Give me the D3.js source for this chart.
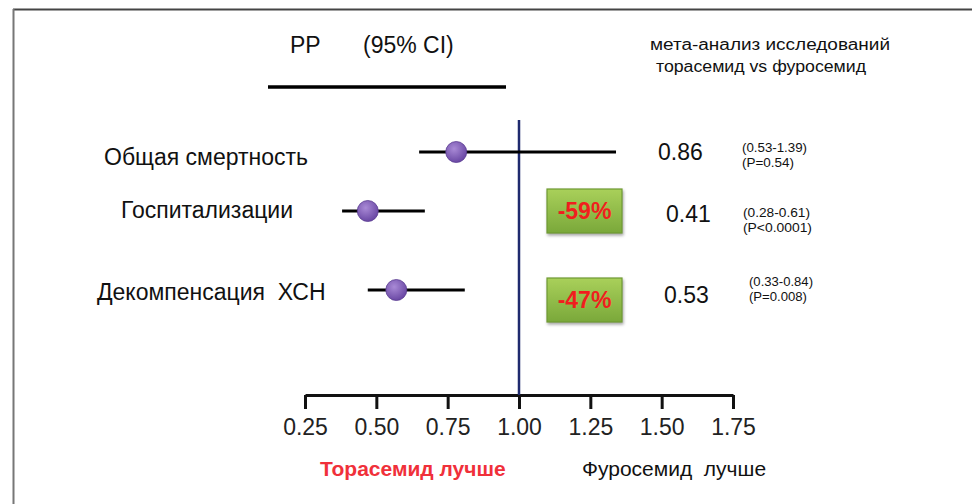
<!DOCTYPE html>
<html>
<head>
<meta charset="utf-8">
<script src="https://cdn.jsdelivr.net/npm/d3@7"></script>
<style>
  body { margin: 0; background: #fff; }
  svg { display: block; font-family: "Liberation Sans", Arial, sans-serif; }
  text { white-space: pre; }
</style>
</head>
<body>
<div id="drawing"></div>
<script>
// data
const outcomes = ["Общая смертность", "Госпитализации", "Декомпенсация  ХСН"];
const rrLabels = ["0.86", "0.41", "0.53"];
const ciLabels = ["(0.53-1.39)", "(0.28-0.61)", "(0.33-0.84)"];
const pLabels = ["(P=0.54)", "(P<0.0001)", "(P=0.008)"];
// where the marks sit on the drawn axis
const pointValues = [0.78, 0.47, 0.57];
const ciLow = [0.65, 0.38, 0.47];
const ciHigh = [1.34, 0.67, 0.81];
const reductions = [null, "-59%", "-47%"];
const tickValues = [0.25, 0.5, 0.75, 1.0, 1.25, 1.5, 1.75];

const width = 972;
const height = 504;

const svg = d3.select("#drawing").append("svg")
  .attr("width", width)
  .attr("height", height);

const defs = svg.append("defs");
const dotGrad = defs.append("radialGradient").attr("id", "dot")
  .attr("cx", "40%").attr("cy", "35%").attr("r", "65%");
dotGrad.append("stop").attr("offset", "0%").attr("stop-color", "#a98ad6");
dotGrad.append("stop").attr("offset", "100%").attr("stop-color", "#6a48a4");
const boxGrad = defs.append("linearGradient").attr("id", "box")
  .attr("x1", 0).attr("y1", 0).attr("x2", 0).attr("y2", 1);
boxGrad.append("stop").attr("offset", "0%").attr("stop-color", "#a9d05a");
boxGrad.append("stop").attr("offset", "100%").attr("stop-color", "#7aa83a");

// frame
svg.append("line").attr("x1", 13).attr("x2", width).attr("y1", 9.5).attr("y2", 9.5)
  .attr("stroke", "#444").attr("stroke-width", 2);
svg.append("line").attr("x1", 13.5).attr("x2", 13.5).attr("y1", 9).attr("y2", height)
  .attr("stroke", "#777").attr("stroke-width", 2);

// scales
const xScale = d3.scaleLinear().domain([0.25, 1.75]).range([305, 733]);
const yScale = d3.scaleOrdinal().domain(outcomes).range([152, 211, 290]);
const axisY = 395;

// header
svg.append("text").attr("x", 290).attr("y", 53).attr("font-size", 23).attr("fill", "#111").text("PP");
svg.append("text").attr("x", 363).attr("y", 53).attr("font-size", 23).attr("fill", "#111").text("(95% CI)");
svg.append("line").attr("x1", 268).attr("x2", 506).attr("y1", 87).attr("y2", 87)
  .attr("stroke", "#000").attr("stroke-width", 3.5);
svg.append("text").attr("x", 650).attr("y", 50)
  .attr("font-size", 16).attr("fill", "#111")
  .attr("textLength", 240).attr("lengthAdjust", "spacingAndGlyphs")
  .text("мета-анализ исследований");
svg.append("text").attr("x", 656).attr("y", 72)
  .attr("font-size", 16).attr("fill", "#111")
  .attr("textLength", 210).attr("lengthAdjust", "spacingAndGlyphs")
  .text("торасемид vs фуросемид");

// axis
const axis = svg.append("g").attr("transform", `translate(0, ${axisY})`)
  .call(d3.axisBottom(xScale).tickValues(tickValues).tickFormat(d3.format(".2f"))
    .tickSizeInner(14).tickSizeOuter(0).tickPadding(10));
axis.select(".domain").attr("stroke", "#111").attr("stroke-width", 3);
axis.selectAll(".tick line").attr("stroke", "#111").attr("stroke-width", 3);
axis.selectAll(".tick text").attr("font-size", 23).attr("fill", "#222")
  .attr("font-family", "Liberation Sans, Arial, sans-serif");

// line of no effect
svg.append("line")
  .attr("x1", xScale(1)).attr("x2", xScale(1))
  .attr("y1", 120).attr("y2", axisY)
  .attr("stroke", "#1f2a6e").attr("stroke-width", 2.5);

// rows
const rows = svg.selectAll("g.row").data(outcomes).join("g").attr("class", "row");

rows.append("line")
  .attr("x1", (d, i) => xScale(ciLow[i]))
  .attr("x2", (d, i) => xScale(ciHigh[i]))
  .attr("y1", d => yScale(d)).attr("y2", d => yScale(d))
  .attr("stroke", "#000").attr("stroke-width", 3);

rows.append("circle")
  .attr("cx", (d, i) => xScale(pointValues[i]))
  .attr("cy", d => yScale(d))
  .attr("r", 10.5)
  .attr("fill", "url(#dot)")
  .attr("stroke", "#5a3c92").attr("stroke-width", 0.8);

const labelX = [104, 121, 97];
const labelDy = [13, 7, 10];
rows.append("text")
  .attr("x", (d, i) => labelX[i])
  .attr("y", (d, i) => yScale(d) + labelDy[i])
  .attr("font-size", 23).attr("fill", "#111")
  .text(d => d);

const rrX = [658, 666, 664];
const rrDy = [8, 11, 13];
rows.append("text")
  .attr("x", (d, i) => rrX[i])
  .attr("y", (d, i) => yScale(d) + rrDy[i])
  .attr("font-size", 23).attr("fill", "#111")
  .text((d, i) => rrLabels[i]);

const ciX = [742, 743, 749];
const ciDy = [0, 6, -4];
const ciLen = [65, 67, 64];
const pLen = [52, 69, 58];
rows.append("text")
  .attr("x", (d, i) => ciX[i])
  .attr("y", (d, i) => yScale(d) + ciDy[i])
  .attr("font-size", 12).attr("fill", "#111")
  .attr("textLength", (d, i) => ciLen[i]).attr("lengthAdjust", "spacingAndGlyphs")
  .text((d, i) => ciLabels[i]);
rows.append("text")
  .attr("x", (d, i) => ciX[i])
  .attr("y", (d, i) => yScale(d) + ciDy[i] + 14.5)
  .attr("font-size", 12).attr("fill", "#111")
  .attr("textLength", (d, i) => pLen[i]).attr("lengthAdjust", "spacingAndGlyphs")
  .text((d, i) => pLabels[i]);

// reduction boxes
const boxes = rows.filter((d, i) => reductions[i] !== null);
const boxDy = [null, 0, 10];
boxes.append("rect")
  .attr("x", 547).attr("width", 75)
  .attr("y", d => yScale(d) + boxDy[outcomes.indexOf(d)] - 22)
  .attr("height", 44)
  .attr("fill", "url(#box)")
  .attr("stroke", "#6f9a33").attr("stroke-width", 1.2)
  .style("filter", "drop-shadow(1px 2px 1.5px rgba(0,0,0,0.35))");
boxes.append("text")
  .attr("x", 584.5)
  .attr("y", d => yScale(d) + boxDy[outcomes.indexOf(d)] + 8)
  .attr("text-anchor", "middle")
  .attr("font-size", 23).attr("font-weight", "bold").attr("fill", "#f01e1e")
  .text(d => reductions[outcomes.indexOf(d)]);

// footer
svg.append("text").attr("x", 320).attr("y", 476).attr("font-size", 21).attr("font-weight", "bold")
  .attr("fill", "#f0303a").text("Торасемид лучше");
svg.append("text").attr("x", 582).attr("y", 476).attr("font-size", 21)
  .attr("fill", "#111").text("Фуросемид  лучше");
</script>
</body>
</html>
